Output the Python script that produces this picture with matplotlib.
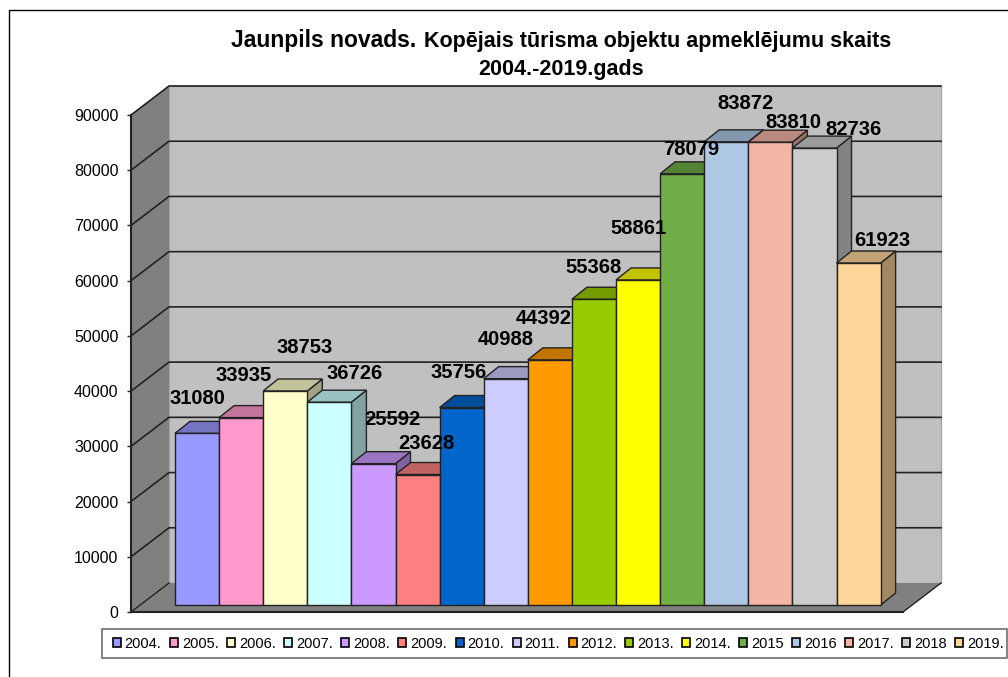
import matplotlib
matplotlib.use("Agg")
import matplotlib.pyplot as plt
from matplotlib.lines import Line2D
from matplotlib.patches import Polygon, Rectangle
from matplotlib.colors import to_rgb

plt.rcParams["font.family"] = ["Liberation Sans", "DejaVu Sans"]

# data
years = ["2004.", "2005.", "2006.", "2007.", "2008.", "2009.", "2010.", "2011.",
         "2012.", "2013.", "2014.", "2015", "2016", "2017.", "2018", "2019."]
visits = [31080, 33935, 38753, 36726, 25592, 23628, 35756, 40988,
          44392, 55368, 58861, 78079, 83872, 83810, 82736, 61923]
y_ticks = [0, 10000, 20000, 30000, 40000, 50000, 60000, 70000, 80000, 90000]

colors = ["#9999FF", "#FF99CC", "#FFFFCC", "#CCFFFF", "#CC99FF", "#FF8080", "#0066CC", "#CCCCFF",
          "#FF9900", "#99CC00", "#FFFF00", "#70AD47", "#AEC7E5", "#F4B6A4", "#CCCCCC", "#FFD699"]

# hand placed data labels, pixels from the top centre of the bar
label_dx = [0, 2, 19, 25, 19, 9, -3, 0, -6, 0, 0, 9, 19, 23, 39, 24]
label_dy = [35, 42, 43, 29, 44, 31, 35, 39, 41, 32, 51, 24, 38, 20, 19, 23]

W, H = 1008, 677
PX_X = 44.1            # pixels per category
PX_Y = 497 / 90000     # pixels per visit

fig = plt.figure(figsize=(W / 100, H / 100), dpi=100, facecolor="white")
ax = fig.add_axes([131 / W, (H - 612) / H, (903 - 131) / W, 497 / H])
ax.set_xlim((131 - 175) / PX_X - 0.5, (903 - 175) / PX_X - 0.5)
ax.set_ylim(0, 90000)
ax.patch.set_visible(False)

# depth of the box and of the bars, pixels turned into data units
box_dx, box_dy = 38 / PX_X, 29 / PX_Y
bar_dx, bar_dy = 15 / PX_X, 12 / PX_Y
base = 7 / PX_Y
x0, x1 = ax.get_xlim()
dark = "#222222"


def shade(color, k):
    return tuple(c * k for c in to_rgb(color))


def poly(points, face, edge="none", lw=1.0, z=1):
    ax.add_patch(Polygon(points, closed=True, facecolor=face, edgecolor=edge,
                         linewidth=lw, zorder=z, clip_on=False))


# walls and floor
poly([(x0 + box_dx, box_dy), (x1 + box_dx, box_dy), (x1 + box_dx, 90000 + box_dy), (x0 + box_dx, 90000 + box_dy)],
     "#C0C0C0", edge="#A6A6A6", lw=1.0)
poly([(x0, 0), (x0 + box_dx, box_dy), (x0 + box_dx, 90000 + box_dy), (x0, 90000)], "#808080")
poly([(x0, 0), (x1, 0), (x1 + box_dx, box_dy), (x0 + box_dx, box_dy)], "#808080")

# gridlines run along the left wall and the back wall
for t in y_ticks[1:]:
    ax.plot([x0, x0 + box_dx, x1 + box_dx], [t, t + box_dy, t + box_dy],
            color=dark, lw=1.2, zorder=2, clip_on=False)
ax.plot([x0, x0 + box_dx], [0, box_dy], color=dark, lw=1.0, zorder=2, clip_on=False)
ax.plot([x1, x1 + box_dx], [0, box_dy], color=dark, lw=1.0, zorder=2, clip_on=False)

# bars, left to right so each one covers the side of the one before
for i, v in enumerate(visits):
    left, right = i - 0.5, i + 0.5
    top = base + v
    z = 3 + i * 0.01
    poly([(right, base), (right + bar_dx, base + bar_dy), (right + bar_dx, top + bar_dy), (right, top)],
         shade(colors[i], 0.64), edge=dark, lw=1.0, z=z)
    poly([(left, top), (right, top), (right + bar_dx, top + bar_dy), (left + bar_dx, top + bar_dy)],
         shade(colors[i], 0.76), edge=dark, lw=1.0, z=z)
    ax.bar(i, v, bottom=base, width=1.0, color=colors[i], edgecolor=dark, linewidth=1.0,
           zorder=z + 0.001, clip_on=False)

for i, v in enumerate(visits):
    ax.annotate(str(v), (i, base + v), xytext=(label_dx[i], label_dy[i]), textcoords="offset pixels",
                ha="center", va="center", fontsize=14.5, fontweight="bold", color="black",
                zorder=10, annotation_clip=False)

# axis
for side in ["top", "right"]:
    ax.spines[side].set_visible(False)
ax.spines["left"].set_linewidth(1.5)
ax.spines["left"].set_color(dark)
ax.spines["bottom"].set_linewidth(1.5)
ax.spines["bottom"].set_color(dark)
ax.spines["left"].set_zorder(5)
ax.spines["bottom"].set_zorder(5)
ax.set_xticks([])
ax.set_yticks(y_ticks)
ax.tick_params(axis="y", length=3, width=1.0, pad=6, labelsize=11.5, color=dark)

# title, two sizes on the first line
fig.text(231 / W, 1 - 41 / H, "Jaunpils novads.", fontsize=16.5, fontweight="bold", ha="left", va="center")
fig.text(891 / W, 1 - 42 / H, "Kopējais tūrisma objektu apmeklējumu skaits", fontsize=15.5, fontweight="bold",
         ha="right", va="center")
fig.text(561 / W, 1 - 69 / H, "2004.-2019.gads", fontsize=15.5, fontweight="bold", ha="center", va="center")

# legend, box drawn apart because its padding is not even left and right
fig.add_artist(Rectangle((102 / W, 1 - 658 / H), 905 / W, 29 / H, transform=fig.transFigure,
                         facecolor="white", edgecolor="#707070", linewidth=1.2, zorder=0))
handles = [Rectangle((0, 0), 1, 1, facecolor=c, edgecolor="black", linewidth=1.2) for c in colors]
fig.legend(handles, years, ncol=16, fontsize=10.5, loc="center left", bbox_to_anchor=(113 / W, 1 - 644 / H),
           frameon=False, borderaxespad=0, borderpad=0,
           handlelength=0.55, handleheight=0.55, handletextpad=0.25, columnspacing=0.595)

# outer frame, only the top and left edges are in the picture
fig.add_artist(Line2D([8.5 / W, 8.5 / W, 1], [0, 1 - 9.5 / H, 1 - 9.5 / H], color="black", lw=1.0))

fig.savefig("out.png", dpi=100)
plt.close(fig)
